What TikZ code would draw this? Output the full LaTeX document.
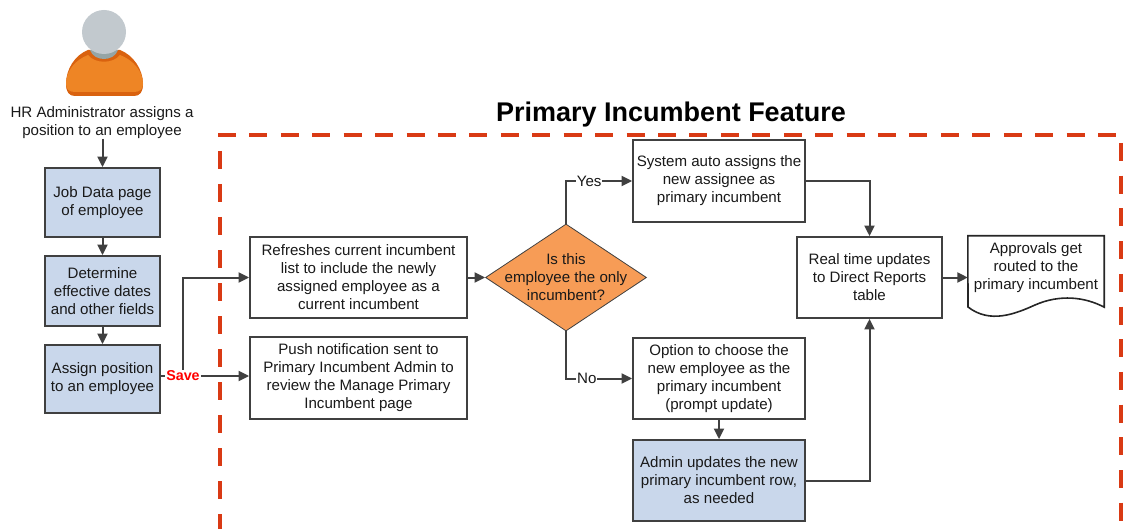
\documentclass[tikz,border=0pt]{standalone}
\usepackage{fontspec}
\setmainfont{Liberation Sans}
\usetikzlibrary{arrows.meta,shapes.geometric}
\definecolor{boxblue}{HTML}{C9D7EB}
\definecolor{linegray}{HTML}{404040}
\definecolor{dashred}{HTML}{D93A14}
\definecolor{dorange}{HTML}{F79C56}
\definecolor{porange}{HTML}{EE8525}
\definecolor{pdark}{HTML}{D9620F}
\definecolor{phead}{HTML}{C2C9CE}
\definecolor{pneck}{HTML}{95A5A6}
\tikzset{
  x=1pt,y=-1pt,
  lbl/.style={font=\fontsize{15.1}{18}\selectfont,align=center,text=black!90,inner sep=0pt},
  wbox/.style={lbl,draw=linegray,line width=1.8pt,fill=white,minimum width=#1,anchor=center},
  bbox/.style={wbox=#1,fill=boxblue},
  conn/.style={draw=linegray,line width=2pt,-{Triangle[length=10.5pt,width=10pt]}},
  plain/.style={draw=linegray,line width=2pt},
  reddash/.style={draw=dashred,line width=4.4pt},
}
\newcommand{\boxat}[7]{\node[#1=#4-#3,minimum height=#6-#5] (#2) at ({(#3+#4)/2},{(#5+#6)/2}) {#7};}
\begin{document}
\begin{tikzpicture}
\useasboundingbox (0,0) rectangle (1123,529);
% person
\fill[pdark] (66,84) .. controls (66,69) and (75,55) .. (88,50) -- (120,50) .. controls (133,55) and (143,69) .. (143,84) .. controls (143,92) and (140,96) .. (134,96) -- (75,96) .. controls (69,96) and (66,92) .. (66,84) -- cycle;
\fill[porange] (66,84) .. controls (66,71) and (75,60) .. (88,55) .. controls (95,64) and (113,64) .. (120,55) .. controls (133,60) and (143,71) .. (143,84) .. controls (143,89) and (140,92) .. (134,92) -- (75,92) .. controls (69,92) and (66,89) .. (66,84) -- cycle;
\fill[pneck] (90,50) .. controls (94,62) and (114,62) .. (118,50) -- cycle;
\fill[phead] (104,32) circle (22);
% title
\node[font=\bfseries\fontsize{27}{30}\selectfont,inner sep=0pt] (title) at (671,115) {Primary Incumbent Feature};
% dashed frame
\draw[reddash,dash pattern=on 18pt off 13.43pt] (218,135) -- (1123,135);
\draw[reddash,dash pattern=on 18pt off 15pt] (220,151) -- (220,529);
\draw[reddash,dash pattern=on 18pt off 14.7pt] (1121,143) -- (1121,529);
% nodes
\node[lbl] (hr) at (102,122.5) {HR Administrator assigns a\\position to an employee};
\boxat{bbox}{job}{45}{160}{168}{237}{Job Data page\\of employee}
\boxat{bbox}{dates}{45}{160}{256}{326}{Determine\\effective dates\\and other fields}
\boxat{bbox}{assign}{45}{160}{345}{413}{Assign position\\to an employee}
\boxat{wbox}{refresh}{250}{467}{237}{318}{Refreshes current incumbent\\list to include the newly\\assigned employee as a\\current incumbent}
\boxat{wbox}{push}{250}{467}{337}{419}{Push notification sent to\\Primary Incumbent Admin to\\review the Manage Primary\\Incumbent page}
\node[diamond,draw=linegray,line width=0.8pt,fill=dorange,minimum width=161,minimum height=107,inner sep=0pt] (only) at (566,277.5) {};
\node[lbl] (onlytext) at (566,277) {Is this\\employee the only\\incumbent?};
\boxat{wbox}{auto}{633}{805}{140}{222}{System auto assigns the\\new assignee as\\primary incumbent}
\boxat{wbox}{option}{633}{805}{338}{419}{Option to choose the\\new employee as the\\primary incumbent\\(prompt update)}
\boxat{bbox}{admin}{633}{805}{440}{521}{Admin updates the new\\primary incumbent row,\\as needed}
\boxat{wbox}{real}{797}{942}{237}{318}{Real time updates\\to Direct Reports\\table}
\node[lbl,minimum width=136,minimum height=71] (doc) at (1036,271.5) {};
\node[lbl] (doctext) at (1036,267.5) {Approvals get\\routed to the\\primary incumbent};
\draw[draw=black!85,line width=1.6pt] (doc.north west) -- (doc.north east) -- (doc.south east) .. controls (1085,297) and (1060,294) .. (1035,305) .. controls (1015,314) and (990,324) .. (968,307) -- cycle;
% connectors
\node[font=\bfseries\fontsize{14.3}{15}\selectfont,text=red,inner sep=1pt,fill=white] (save) at (183,376) {Save};
\draw[conn] (hr.south -| job.north) -- (job.north);
\draw[conn] (job) -- (dates);
\draw[conn] (dates) -- (assign);
\draw[plain] (assign.east |- save.west) -- (save.west);
\draw[conn] (save.east) -- (push.west |- save.east);
\draw[conn] (save.north) |- (refresh.west);
\draw[conn] (refresh) -- (only);
\draw[conn] (only.north) |- (auto.west) node[pos=0.675,lbl,fill=white,inner xsep=1pt,inner ysep=1pt] (yes) {Yes};
\draw[conn] (only.south) |- (option.west) node[pos=0.657,lbl,fill=white,inner xsep=1pt,inner ysep=1pt] (no) {No};
\draw[conn] (option) -- (admin);
\draw[conn] (auto.east) -| (real.north);
\draw[conn] (admin.east) -| (real.south);
\draw[conn] (real.east) -- (real.east -| doc.west);
\end{tikzpicture}
\end{document}
